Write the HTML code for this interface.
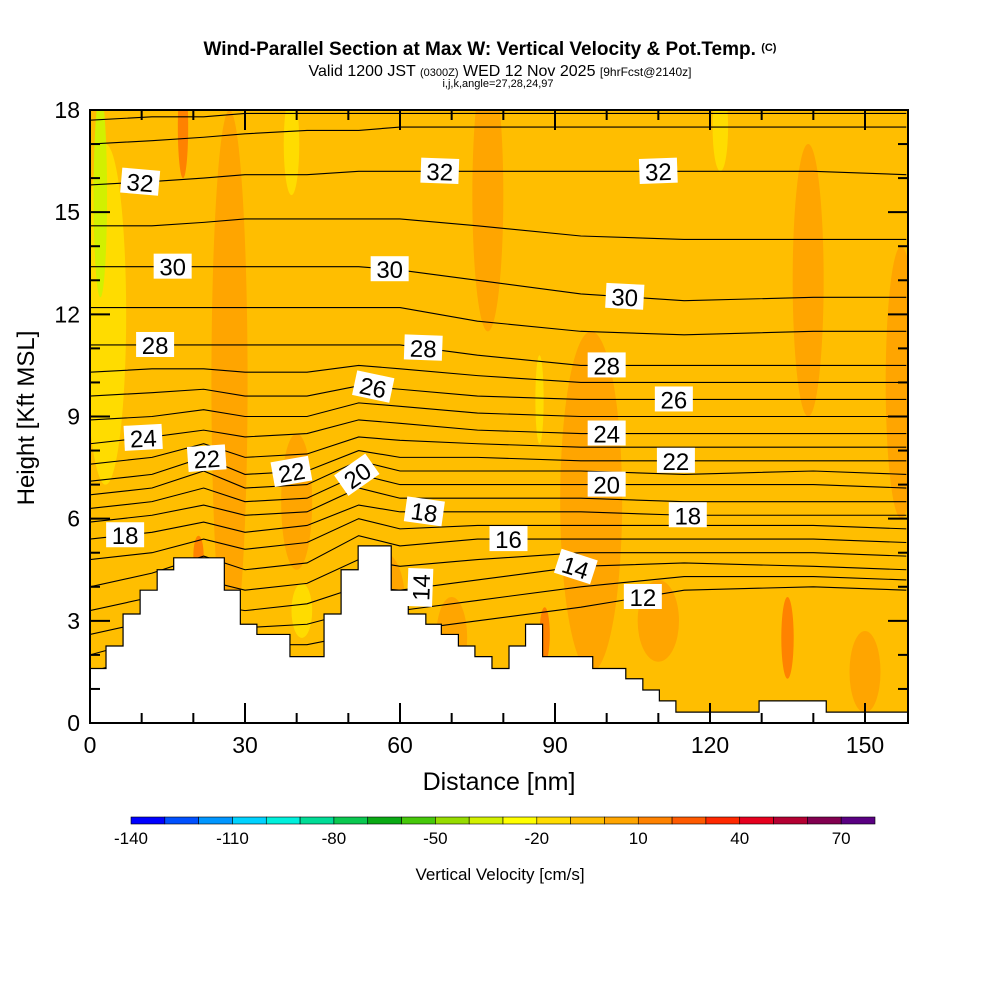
<!DOCTYPE html>
<html><head><meta charset="utf-8"><style>
body{margin:0;background:#fff;}
svg text{font-family:"Liberation Sans",sans-serif;}
</style></head><body>
<svg id="chart" width="1000" height="1000" viewBox="0 0 1000 1000" xmlns="http://www.w3.org/2000/svg">
<defs><clipPath id="plotclip"><rect x="90" y="110" width="818" height="613"/></clipPath></defs>
<g>
<text x="490" y="55" text-anchor="middle" font-size="19" font-weight="bold">Wind-Parallel Section at Max W: Vertical Velocity &amp; Pot.Temp. <tspan font-size="11" dy="-4">(C)</tspan></text>
<text x="500" y="76" text-anchor="middle" font-size="16">Valid 1200 JST <tspan font-size="11">(0300Z)</tspan> WED 12 Nov 2025 <tspan font-size="12">[9hrFcst@2140z]</tspan></text>
<text x="498" y="87" text-anchor="middle" font-size="11">i,j,k,angle=27,28,24,97</text>
</g>
<g id="plot" clip-path="url(#plotclip)"></g>
<g id="labels"></g>
<g id="axes"></g>
<g id="cbar"></g>
<text x="499" y="790" text-anchor="middle" font-size="25">Distance [nm]</text>
<text transform="translate(34,418) rotate(-90)" text-anchor="middle" font-size="24">Height [Kft MSL]</text>
<text x="500" y="880" text-anchor="middle" font-size="17">Vertical Velocity [cm/s]</text>
</svg>
<script>
// ---- data ----
const cbColors=["#0000FF","#0050FF","#0096FF","#00D2FF","#00F0DC","#00DC96","#0AC850","#0AAA14","#46C80A","#96DC00","#D2F000","#FFFF00","#FFDC00","#FFBE00","#FFA500","#FF8200","#FF5A00","#FF2800","#E6001E","#B40032","#820050","#5A0082"];
const cbLabels=[-140,-110,-80,-50,-20,10,40,70];
const xTicks=[0,30,60,90,120,150];
const yTicks=[0,3,6,9,12,15,18];
const terrainNm=[0,3.1,6.4,9.7,13,16.2,26,29.1,32.3,38.7,45.3,48.6,51.9,58.3,61.6,65,68,71.3,74.5,77.8,81.1,84.3,87.6,94,97.3,103.7,107,110.2,113.4,120,129.5,142.5,158.5];
const terrainK=[1.6,2.26,3.2,3.9,4.5,4.85,3.9,2.9,2.6,1.95,3.2,4.5,5.2,3.9,3.2,2.9,2.6,2.26,1.95,1.6,2.26,2.9,1.95,1.95,1.6,1.3,0.97,0.65,0.32,0.32,0.65,0.32,0.32];
const thetaCols=[0,12,22,30,42,52,60,75,95,115,140,158];
const thetaLevels=[12,13,14,15,16,17,18,19,20,21,22,23,24,25,26,27,28,29,30,31,32,33,34];
const thetaHeights=[
[1.5,2.0,2.5,2.3,2.3,2.6,2.7,3.0,3.4,3.9,4.0,3.9],
[2.0,2.5,3.0,2.8,2.9,3.3,3.3,3.6,4.0,4.3,4.3,4.2],
[2.6,3.0,3.5,3.3,3.5,4.0,3.9,4.2,4.6,4.7,4.6,4.5],
[3.3,3.7,4.2,3.9,4.1,4.8,4.6,4.8,5.0,5.0,5.0,4.9],
[4.0,4.4,4.9,4.5,4.7,5.5,5.2,5.4,5.4,5.4,5.4,5.3],
[4.8,5.0,5.4,5.1,5.3,6.0,5.7,5.8,5.8,5.8,5.8,5.7],
[5.4,5.6,5.9,5.6,5.8,6.4,6.2,6.2,6.2,6.1,6.1,6.1],
[5.9,6.1,6.4,6.1,6.2,6.9,6.6,6.6,6.6,6.5,6.5,6.5],
[6.3,6.5,6.9,6.5,6.6,7.3,7.0,7.0,7.0,7.0,7.0,6.9],
[6.7,6.9,7.4,6.9,7.0,7.7,7.4,7.4,7.4,7.3,7.4,7.3],
[7.1,7.3,7.8,7.3,7.4,8.0,7.8,7.8,7.7,7.7,7.7,7.7],
[7.6,7.8,8.2,7.8,7.9,8.4,8.3,8.2,8.1,8.1,8.1,8.1],
[8.2,8.4,8.6,8.4,8.5,8.9,8.8,8.6,8.5,8.5,8.5,8.5],
[8.9,9.0,9.2,9.0,9.0,9.4,9.3,9.1,9.0,9.0,9.0,9.0],
[9.6,9.7,9.8,9.6,9.6,9.9,9.8,9.6,9.5,9.5,9.5,9.5],
[10.3,10.4,10.4,10.3,10.3,10.5,10.4,10.2,10.0,10.0,10.0,10.0],
[11.1,11.1,11.1,11.1,11.1,11.1,11.1,10.8,10.5,10.5,10.5,10.5],
[12.2,12.2,12.2,12.2,12.2,12.2,12.2,11.8,11.5,11.4,11.5,11.5],
[13.4,13.4,13.4,13.4,13.4,13.4,13.3,13.0,12.6,12.4,12.5,12.5],
[14.6,14.6,14.7,14.8,14.8,14.8,14.8,14.6,14.3,14.2,14.2,14.2],
[15.8,15.9,16.0,16.1,16.1,16.2,16.2,16.2,16.2,16.2,16.2,16.1],
[17.0,17.1,17.2,17.3,17.4,17.4,17.5,17.5,17.5,17.5,17.5,17.5],
[17.7,17.8,17.8,17.9,17.9,17.9,17.9,17.9,17.9,17.9,17.9,17.9]];
const labelTheta=[32,32,32,30,30,30,28,28,28,26,26,24,24,22,22,20,20,22,18,18,18,16,14,14,12];
const labelNm=[9.7,67.7,110,16,58,103.5,12.6,64.5,100,54.8,113,10.3,100,22.6,39,51.7,100,113.4,6.8,64.7,115.7,81,64,94,107];
const labelRot=[5,2,-2,0,0,3,0,2,0,12,0,-3,0,-4,-10,-35,0,0,0,8,0,0,-88,18,0];
// velocity patches: center nm, center kft, radius nm, radius kft, colour bin index
const patchNm=[27,40,77,97,139,157,18,3,2,39,122,87,41,21,88,135,57,110,70,20,150];
const patchK=[10,6.5,15.5,6.5,13,10,17.5,12,15.5,17,17.5,9.5,3.3,4.9,2.6,2.5,3.5,3,2.5,1.5,1.5];
const patchRx=[3.5,3,3,6,3,3,1,4,1.3,1.5,1.5,0.8,2,1,1,1.2,4,4,3,3,3];
const patchRy=[8,2,4,5,4,4,1.5,5,3,1.5,1.3,1.3,0.8,0.6,0.8,1.2,1.5,1.2,1.2,1.2,1.2];
const patchBin=[14,14,14,14,14,14,15,12,10,12,12,12,12,15,15,15,14,14,14,14,14];

// ---- scales ----
const X0=90,X1=908,Y0=723,Y1=110;
const sx=nm=>X0+nm*(155/30);
const sy=k=>Y0-k*(613/18);
const NS="http://www.w3.org/2000/svg";
function mk(tag,attrs,parent){const e=document.createElementNS(NS,tag);for(const k in attrs)e.setAttribute(k,attrs[k]);parent.appendChild(e);return e;}
const plot=document.getElementById('plot');

const bg=mk('rect',{x:X0,y:Y1,width:X1-X0,height:Y0-Y1,fill:cbColors[13]},plot);


for(let i=0;i<patchNm.length;i++){
  const el=mk('ellipse',{cx:sx(patchNm[i]),cy:sy(patchK[i]),rx:patchRx[i]*155/30,ry:patchRy[i]*613/18,fill:cbColors[patchBin[i]]},plot);
  
  
}
function thetaY(row,nm){
  const h=thetaHeights[row];
  for(let j=0;j<thetaCols.length-1;j++){
    if(nm<=thetaCols[j+1]){const t=(nm-thetaCols[j])/(thetaCols[j+1]-thetaCols[j]);return h[j]+t*(h[j+1]-h[j]);}
  }
  return h[h.length-1];
}
for(let r=0;r<thetaLevels.length;r++){
  const pts=thetaCols.map((c,j)=>sx(c)+','+sy(thetaHeights[r][j])).join(' ');
  const pl=mk('polyline',{points:pts,fill:'none',stroke:'#000','stroke-width':1.1},plot);
  
  
}
// terrain
let tp=[];
for(let i=0;i<terrainNm.length-1;i++){
  tp.push(sx(terrainNm[i])+','+sy(terrainK[i]));
  tp.push(sx(terrainNm[i+1])+','+sy(terrainK[i]));
}
tp.push(sx(160)+','+sy(terrainK[terrainK.length-1]));
tp.push(sx(160)+','+(Y0+5));tp.push((X0-5)+','+(Y0+5));tp.push((X0-5)+','+sy(terrainK[0]));
const ter=mk('polygon',{points:tp.join(' '),fill:'#fff',stroke:'#000','stroke-width':1.2},plot);



// contour labels
const lg=document.getElementById('labels');
for(let i=0;i<labelTheta.length;i++){
  const row=thetaLevels.indexOf(labelTheta[i]);
  const x=sx(labelNm[i]),y=sy(thetaY(row,labelNm[i]));
  const g=mk('g',{transform:`translate(${x},${y}) rotate(${labelRot[i]})`},lg);
  
  
  mk('rect',{x:-19,y:-13,width:38,height:25,fill:'#fff'},g);
  const t=mk('text',{x:0,y:9,'text-anchor':'middle','font-size':24,'font-family':'Liberation Serif, serif'},g);
  t.textContent=labelTheta[i];
}

// axes
const ax=document.getElementById('axes');
const frame=mk('rect',{x:X0,y:Y1,width:X1-X0,height:Y0-Y1,fill:'none',stroke:'#000','stroke-width':2},ax);


for(let v=0;v<=158;v+=10){
  const L=(v%30===0)?20:10,x=sx(v);
  mk('line',{x1:x,y1:Y0,x2:x,y2:Y0-L,stroke:'#000','stroke-width':2},ax);
  mk('line',{x1:x,y1:Y1,x2:x,y2:Y1+L,stroke:'#000','stroke-width':2},ax);
}
for(let v=0;v<=18;v+=1){
  const L=(v%3===0)?20:10,y=sy(v);
  mk('line',{x1:X0,y1:y,x2:X0+L,y2:y,stroke:'#000','stroke-width':2},ax);
  mk('line',{x1:X1,y1:y,x2:X1-L,y2:y,stroke:'#000','stroke-width':2},ax);
}
xTicks.forEach(v=>{const t=mk('text',{x:sx(v),y:753,'text-anchor':'middle','font-size':23},ax);t.textContent=v;
  
  });
yTicks.forEach(v=>{const t=mk('text',{x:80,y:sy(v)+8,'text-anchor':'end','font-size':23},ax);t.textContent=v;
  
  });

// colorbar
const cb=document.getElementById('cbar');
const cbx0=131,cbw=(875-131)/cbColors.length;
cbColors.forEach((c,i)=>{const r=mk('rect',{x:cbx0+i*cbw,y:817,width:cbw,height:7,fill:c,stroke:'#000','stroke-width':0.6},cb);
  
  });
cbLabels.forEach(v=>{const t=mk('text',{x:cbx0+(v+140)/10*cbw,y:844,'text-anchor':'middle','font-size':17},cb);t.textContent=v;
  
  });
</script>
</body></html>
